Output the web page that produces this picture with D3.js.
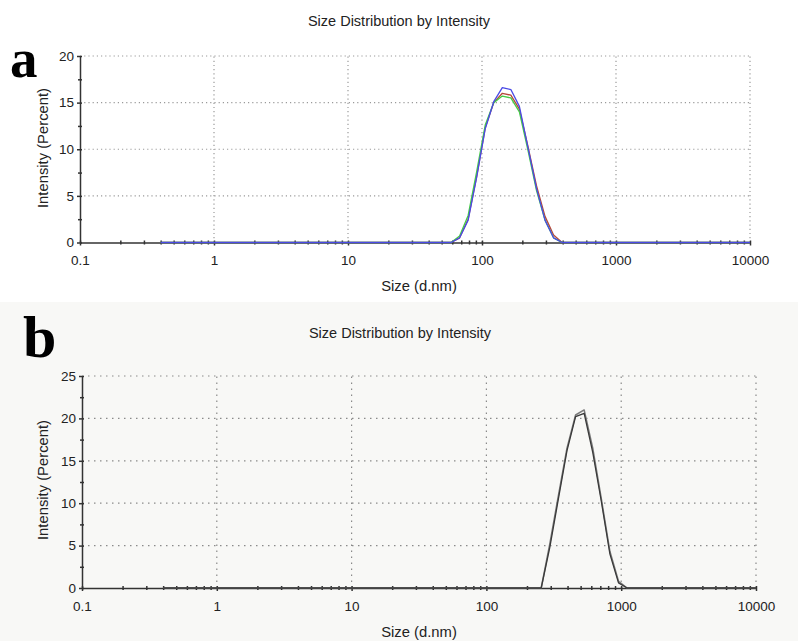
<!DOCTYPE html>
<html><head><meta charset="utf-8">
<script src="https://cdn.jsdelivr.net/npm/d3@7"></script>
<style>
body{margin:0;background:#fff;}
svg{display:block;}
text{font-family:Arial,"Liberation Sans",sans-serif;}
text.letter{font-family:"Liberation Serif","Times New Roman",serif;font-weight:bold;}
</style></head>
<body><svg id="c" width="798" height="641"></svg>
<script>
// ---------- data ----------
const sizes = [0.4,0.4632,0.5365,0.6213,0.7195,0.8332,0.9649,1.117,1.294,1.499,1.736,2.010,2.328,2.696,3.122,3.615,4.187,4.849,5.615,6.503,7.531,8.721,10.10,11.70,13.54,15.69,18.17,21.04,24.36,28.21,32.67,37.84,43.82,50.75,58.77,68.06,78.82,91.28,105.7,122.4,141.8,164.2,190.1,220.2,255.0,295.3,342.0,396.1,458.7,531.2,615.1,712.4,825.0,955.4,1106,1281,1484,1718,1990,2305,2669,3091,3580,4145,4801,5560,6439,7456,8635,10000];

// panel a: three measurements
const aRed   = [0,0,0,0,0,0,0,0,0,0,0,0,0,0,0,0,0,0,0,0,0,0,0,0,0,0,0,0,0,0,0,0,0,0,0,0.5,2.5,7.1,12.3,15.0,16.0,15.8,14.3,10.3,6.1,2.8,0.8,0,0,0,0,0,0,0,0,0,0,0,0,0,0,0,0,0,0,0,0,0,0,0];
const aGreen = [0,0,0,0,0,0,0,0,0,0,0,0,0,0,0,0,0,0,0,0,0,0,0,0,0,0,0,0,0,0,0,0,0,0,0,0.7,2.9,7.6,12.6,15.0,15.7,15.5,14.0,9.9,5.6,2.4,0.5,0,0,0,0,0,0,0,0,0,0,0,0,0,0,0,0,0,0,0,0,0,0,0];
const aBlue  = [0,0,0,0,0,0,0,0,0,0,0,0,0,0,0,0,0,0,0,0,0,0,0,0,0,0,0,0,0,0,0,0,0,0,0,0.5,2.4,7.0,12.2,15.1,16.6,16.4,14.6,10.2,5.8,2.4,0.5,0,0,0,0,0,0,0,0,0,0,0,0,0,0,0,0,0,0,0,0,0,0,0];

// panel b: two measurements
const bGrey  = [0,0,0,0,0,0,0,0,0,0,0,0,0,0,0,0,0,0,0,0,0,0,0,0,0,0,0,0,0,0,0,0,0,0,0,0,0,0,0,0,0,0,0,0,0,5.2,10.9,16.5,20.4,21.0,16.5,10.5,4.3,0.8,0,0,0,0,0,0,0,0,0,0,0,0,0,0,0,0];
const bDark  = [0,0,0,0,0,0,0,0,0,0,0,0,0,0,0,0,0,0,0,0,0,0,0,0,0,0,0,0,0,0,0,0,0,0,0,0,0,0,0,0,0,0,0,0,0,4.8,10.5,16.2,20.2,20.6,16.0,10.2,4.0,0.6,0,0,0,0,0,0,0,0,0,0,0,0,0,0,0,0];

const xTicks = [0.1,1,10,100,1000,10000];
const xTickLabels = ["0.1","1","10","100","1000","10000"];
const aYTicks = [0,5,10,15,20];
const bYTicks = [0,5,10,15,20,25];
const aYMinor = [2.5,7.5,12.5,17.5];
const bYMinor = [2.5,7.5,12.5,17.5,22.5];
const title = "Size Distribution by Intensity";
const xLabel = "Size (d.nm)";
const yLabel = "Intensity (Percent)";

// ---------- drawing ----------
const svg = d3.select("#c");
svg.append("rect").attr("x",0).attr("y",302).attr("width",798).attr("height",339).attr("fill","#f8f8f6");

const xMinor = [];
[0.1,1,10,100,1000].forEach(d=>{for(let k=2;k<=9;k++) xMinor.push(+(d*k).toPrecision(3));});

function panel(o){
  const x = d3.scaleLog().domain([0.1,10000]).range([o.x0,o.x1]);
  const y = d3.scaleLinear().domain([0,o.ymax]).range([o.y0,o.y1]);
  const g = svg.append("g");
  // grid
  g.selectAll(".vg").data(xTicks.slice(1)).join("line")
    .attr("x1",d=>x(d)).attr("x2",d=>x(d)).attr("y1",o.y0).attr("y2",o.y1)
    .attr("stroke",o.grid).attr("stroke-width",1.2).attr("stroke-dasharray",o.dash);
  g.selectAll(".hg").data(o.yTicks.slice(1)).join("line")
    .attr("x1",o.x0).attr("x2",o.x1).attr("y1",d=>y(d)).attr("y2",d=>y(d))
    .attr("stroke",o.grid).attr("stroke-width",1.2).attr("stroke-dasharray",o.dash);
  // axes
  const xa = g.append("g").attr("transform",`translate(0,${o.y0})`)
    .call(d3.axisBottom(x).tickValues(xTicks).tickFormat((d,i)=>xTickLabels[i]).tickSize(3).tickSizeOuter(0).tickPadding(10));
  xa.select(".domain").attr("stroke",o.axis).attr("stroke-width",1.5);
  xa.selectAll(".tick line").attr("stroke",o.axis).attr("y1",-2).attr("stroke-width",1.5);
  xa.selectAll("text").attr("font-size",13.5).attr("fill","#222");
  const xm = g.append("g").attr("transform",`translate(0,${o.y0})`)
    .call(d3.axisBottom(x).tickValues(xMinor).tickFormat("").tickSize(2).tickSizeOuter(0));
  xm.select(".domain").remove();
  xm.selectAll(".tick line").attr("stroke",o.axis).attr("y1",-2).attr("stroke-width",1.5);

  const ya = g.append("g").attr("transform",`translate(${o.x0},0)`)
    .call(d3.axisLeft(y).tickValues(o.yTicks).tickFormat(d3.format("d")).tickSize(3).tickSizeOuter(0).tickPadding(3));
  ya.select(".domain").attr("stroke",o.axis).attr("stroke-width",1.5);
  ya.selectAll(".tick line").attr("stroke",o.axis).attr("x1",2).attr("stroke-width",1.5);
  ya.selectAll("text").attr("font-size",13.5).attr("fill","#222");
  const ym = g.append("g").attr("transform",`translate(${o.x0},0)`)
    .call(d3.axisLeft(y).tickValues(o.yMinor).tickFormat("").tickSize(2).tickSizeOuter(0));
  ym.select(".domain").remove();
  ym.selectAll(".tick line").attr("stroke",o.axis).attr("x1",2).attr("stroke-width",1.5);

  // series
  const line = d3.line().x((d,i)=>x(sizes[i])).y(d=>y(d));
  o.series.forEach(s=>{
    g.append("path").datum(s.v).attr("d",line).attr("fill","none")
      .attr("stroke",s.c).attr("stroke-width",s.w||1.3).attr("stroke-linejoin","round");
  });
  // texts
  g.append("text").attr("x",o.tx).attr("y",o.ty).attr("text-anchor","middle")
    .attr("font-size",14.5).attr("fill","#222").text(title);
  g.append("text").attr("x",o.xlx).attr("y",o.xly).attr("text-anchor","middle")
    .attr("font-size",14.8).attr("fill","#222").text(xLabel);
  g.append("text").attr("transform",`translate(${o.ylx},${o.yly}) rotate(-90)`).attr("text-anchor","middle")
    .attr("font-size",14.8).attr("fill","#222").text(yLabel);
  g.append("text").attr("class","letter").attr("x",o.lx).attr("y",o.ly)
    .attr("font-size",o.ls).attr("fill","#000").text(o.letter);
}

panel({x0:80,x1:750,y0:242.5,y1:56,ymax:20,yTicks:aYTicks,yMinor:aYMinor,
  grid:"#9a9a9a",dash:"1.2,3",axis:"#333",
  series:[{v:aRed,c:"#b5483a"},{v:aGreen,c:"#44cc44"},{v:aBlue,c:"#4a4ae6"}],
  tx:399,ty:26,xlx:419,xly:291,ylx:48,yly:148,lx:10,ly:77,ls:55,letter:"a"});

panel({x0:82,x1:756,y0:588,y1:376,ymax:25,yTicks:bYTicks,yMinor:bYMinor,
  grid:"#8a8a8a",dash:"1.5,4.5",axis:"#333",
  series:[{v:bGrey,c:"#7a7a7a",w:1.5},{v:bDark,c:"#3a3a3a",w:1.3}],
  tx:400,ty:338,xlx:419,xly:637,ylx:48,yly:480,lx:23,ly:357,ls:60,letter:"b"});
</script>
</body></html>
